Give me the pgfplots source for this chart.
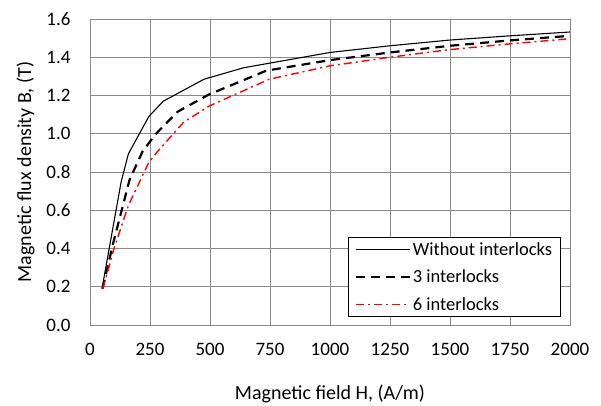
\documentclass[border=0pt]{standalone}
\usepackage{pgfplots}
\pgfplotsset{compat=1.18}
\usepackage{fontspec}
\setmainfont{Carlito}

\pgfplotstableread{
H     B
50    0.19
130   0.75
160   0.895
245   1.09
305   1.17
475   1.285
640   1.345
1000  1.425
1250  1.46
1500  1.49
1750  1.512
2000  1.532
}\without

\pgfplotstableread{
H     B
52    0.19
95    0.42
165   0.76
220   0.91
275   1.0
365   1.115
495   1.205
735   1.33
1000  1.385
1250  1.425
1500  1.46
1750  1.488
2000  1.512
}\three

\pgfplotstableread{
H     B
54    0.19
100   0.40
160   0.625
243   0.845
280   0.905
390   1.06
497   1.145
747   1.285
1000  1.355
1250  1.40
1500  1.44
1750  1.47
2000  1.497
}\six

\definecolor{gridgray}{RGB}{137,137,137}

\begin{document}
\begin{tikzpicture}
\path[use as bounding box] (-90pt,-81pt) rectangle (511pt,325pt);
\begin{axis}[
  at={(0,0)}, anchor=south west,
  scale only axis,
  width=480pt, height=306pt,
  xmin=0, xmax=2000, ymin=0, ymax=1.6,
  xtick={0,250,...,2000},
  ytick={0,0.2,...,1.6},
  /pgf/number format/assume math mode=true,
  scaled x ticks=false,
  tick style={draw=none},
  grid=major,
  major grid style={gridgray, line width=0.9pt},
  axis line style={gridgray, line width=0.9pt},
  ticklabel style={font=\fontsize{19}{22}\selectfont},
  xticklabel style={yshift=-15pt, /pgf/number format/1000 sep={}},
  yticklabel style={xshift=-16pt, /pgf/number format/.cd, fixed, fixed zerofill, precision=1},
  label style={font=\fontsize{20}{23}\selectfont},
  xlabel={Magnetic field H, (A/m)},
  ylabel={Magnetic flux density B, (T)},
  xlabel style={yshift=-22pt},
  ylabel style={yshift=5pt},
  legend cell align=left,
  legend style={
    at={(0.98,0.026)}, anchor=south east,
    draw=black, line width=0.6pt,
    font=\fontsize{18.5}{21}\selectfont,
    row sep=9pt, inner xsep=6pt, inner ysep=3pt,
  },
  legend image code/.code={\draw[#1] (14pt,0pt) -- (68pt,0pt);},
]
\addplot[black, line width=1.1pt] table[x=H, y=B] {\without};
\addlegendentry{Without interlocks}
\addplot[black, line width=2.2pt, dash pattern=on 9pt off 6pt] table[x=H, y=B] {\three};
\addlegendentry{3 interlocks}
\addplot[red, line width=1.4pt, dash pattern=on 8pt off 4pt on 2pt off 4pt] table[x=H, y=B] {\six};
\addlegendentry{6 interlocks}
\end{axis}
\end{tikzpicture}
\end{document}
